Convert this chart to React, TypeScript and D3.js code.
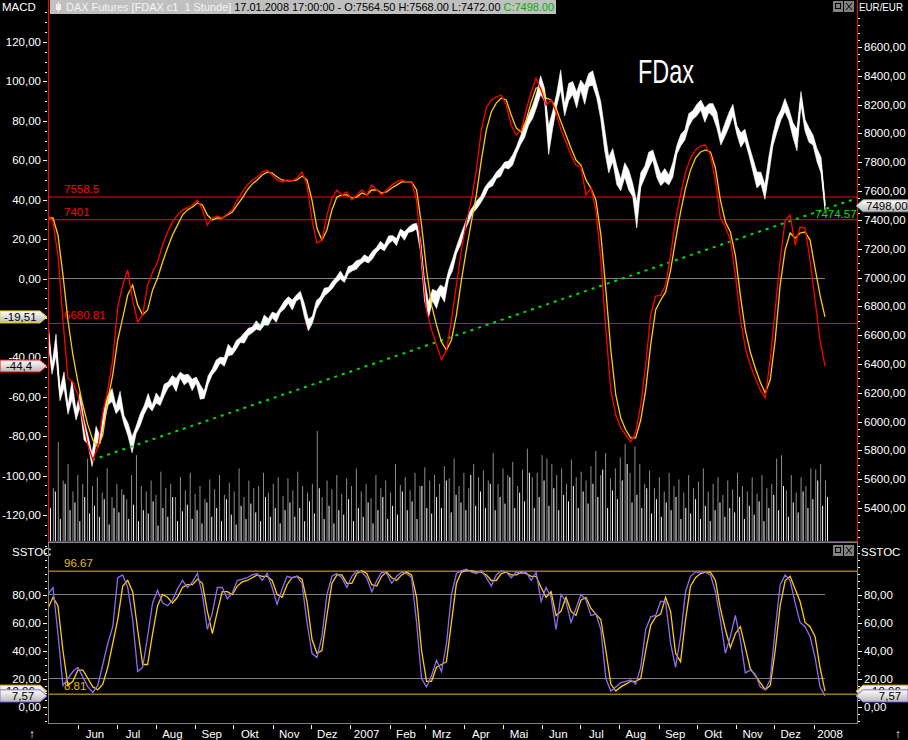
import React from 'react';
import * as d3 from 'd3';

// axis window (first bar .. last bar as placed on the time axis)
const startDate = new Date(2006, 4, 8);
const endDate = new Date(2008, 0, 10);
const monthNames = ['Jan', 'Feb', 'Mrz', 'Apr', 'Mai', 'Jun', 'Jul', 'Aug', 'Sep', 'Okt', 'Nov', 'Dez'];

// FDAX hourly close (sampled)
const price = [
  6636, 6358, 6532, 6185, 6289, 6080, 6219, 6046, 6150, 5942, 5872, 5733, 5907, 5872, 6046, 6150, 6185, 6080, 6150, 6011,
  5942, 5838, 5942, 6011, 6080, 6150, 6094, 6164, 6136, 6219, 6254, 6289, 6254, 6323, 6289, 6303, 6254, 6289, 6205, 6185,
  6289, 6344, 6393, 6427, 6414, 6497, 6483, 6532, 6566, 6580, 6622, 6636, 6670, 6650, 6705, 6691, 6740, 6719, 6774, 6809,
  6844, 6809, 6858, 6879, 6774, 6670, 6705, 6809, 6844, 6899, 6913, 6948, 6983, 7017, 6983, 7052, 7066, 7087, 7108, 7135,
  7121, 7156, 7191, 7226, 7205, 7260, 7274, 7246, 7316, 7288, 7330, 7344, 7357, 7226, 6913, 6774, 6879, 6844, 6913, 6879,
  7017, 7087, 7191, 7260, 7344, 7413, 7468, 7503, 7538, 7593, 7642, 7663, 7711, 7732, 7781, 7781, 7815, 7885, 7954, 8010,
  8093, 8149, 8232, 8336, 8267, 7954, 8093, 8232, 8371, 8162, 8287, 8315, 8232, 8336, 8267, 8371, 8385, 8287, 8162, 7954,
  7781, 7850, 7711, 7642, 7746, 7677, 7607, 7434, 7677, 7732, 7815, 7850, 7746, 7677, 7711, 7677, 7746, 7885, 7954, 7989,
  8093, 8128, 8162, 8197, 8128, 8176, 8162, 8093, 7954, 8024, 8093, 8162, 8024, 7954, 7989, 7885, 7781, 7677, 7691, 7593,
  7781, 7954, 8058, 8128, 8197, 8128, 8024, 7954, 8246, 8058, 7989, 7954, 7850, 7781, 7498
];
// high-low spread of each sampled period (EUR)
const priceRange = [
  120, 60, 150, 80, 110, 60, 130, 70, 100, 140, 60, 90, 120, 50, 110, 70, 90, 50, 120, 60,
  90, 110, 50, 80, 60, 90, 40, 70, 50, 80, 40, 60, 90, 40, 70, 50, 80, 40, 100, 50,
  60, 40, 70, 40, 60, 80, 40, 60, 35, 70, 50, 40, 60, 35, 70, 45, 40, 60, 35, 55,
  45, 70, 40, 50, 90, 80, 50, 60, 40, 55, 35, 50, 40, 55, 35, 50, 40, 60, 35, 45,
  40, 55, 35, 50, 40, 55, 35, 50, 40, 60, 35, 50, 40, 90, 150, 110, 80, 120, 70, 100,
  60, 80, 50, 70, 45, 60, 40, 55, 45, 60, 40, 55, 45, 60, 40, 55, 70, 50, 60, 80,
  70, 90, 100, 130, 90, 200, 120, 90, 140, 80, 120, 90, 110, 70, 130, 90, 100, 80, 120, 150,
  110, 90, 130, 80, 100, 140, 90, 180, 100, 80, 110, 70, 100, 80, 90, 70, 100, 60, 80, 70,
  90, 60, 80, 70, 100, 60, 90, 110, 70, 90, 100, 80, 60, 100, 80, 70, 90, 110, 80, 100,
  120, 80, 100, 70, 90, 80, 100, 150, 90, 80, 100, 70, 90, 110, 60
];

// MACD line (red) and signal (yellow)
const macd = [
  32.2, 28.7, 11.9, -21.1, -50.5, -52.5, -59.1, -71.8, -84.5, -92.1,
  -85.5, -68.2, -56.6, -41.3, -14.5, -3.3, 4.3, -10.9, -22.1, -18.5,
  -3.3, 3.3, 8.4, 17.0, 23.6, 28.7, 32.2, 34.8, 35.8, 37.3,
  39.8, 34.8, 27.1, 30.7, 31.7, 30.7, 32.7, 34.8, 39.8, 43.9,
  47.4, 50.0, 51.5, 54.0, 55.0, 52.5, 50.0, 49.0, 50.0, 49.5,
  51.0, 54.0, 47.4, 29.7, 18.0, 19.5, 32.2, 40.8, 44.9, 42.4,
  43.9, 39.8, 42.4, 44.9, 42.4, 47.4, 44.9, 42.4, 44.9, 47.4,
  49.0, 50.0, 49.0, 49.0, 39.8, 9.4, -16.0, -26.1, -33.7, -41.3,
  -36.3, -21.1, -3.3, 14.5, 28.7, 39.8, 55.0, 75.3, 86.5, 90.6,
  92.1, 93.1, 88.0, 77.9, 72.8, 75.3, 85.5, 94.6, 101.7, 95.6,
  88.0, 90.6, 84.5, 75.3, 69.3, 62.7, 57.6, 56.6, 42.4, 45.9,
  34.8, 9.4, -26.1, -56.6, -69.3, -75.9, -79.4, -83.0, -77.9, -64.2,
  -43.9, -18.5, -8.9, -8.4, -3.3, 11.9, 29.7, 42.4, 54.0, 61.1,
  65.2, 67.2, 67.7, 62.7, 50.0, 30.7, 26.1, 19.5, 1.8, -20.0,
  -35.3, -43.9, -50.5, -56.6, -60.6, -41.3, -16.0, 9.4, 29.7, 32.2,
  17.0, 26.1, 25.6, 9.4, -10.9, -31.2, -44.4
];
const signal = [
  30.7, 30.7, 22.1, 1.8, -21.1, -38.8, -52.5, -64.2, -74.3, -81.9,
  -85.5, -79.4, -61.6, -48.9, -31.2, -20.0, -8.4, -3.3, -13.4, -18.5,
  -16.0, -5.8, 0.3, 8.4, 15.5, 22.1, 27.1, 32.2, 34.8, 36.3,
  38.3, 37.3, 32.2, 29.7, 30.7, 30.7, 32.2, 33.7, 37.3, 40.8,
  44.9, 47.9, 50.0, 52.5, 54.0, 53.5, 51.5, 50.0, 49.5, 49.5,
  50.0, 52.0, 50.0, 39.8, 25.6, 19.5, 24.6, 34.8, 41.3, 42.4,
  42.4, 40.8, 41.3, 43.4, 42.4, 44.9, 44.9, 43.4, 43.9, 45.9,
  47.4, 49.0, 49.0, 49.0, 44.9, 27.1, 4.3, -13.4, -23.6, -32.2,
  -36.3, -31.2, -18.5, -0.8, 14.5, 28.7, 42.4, 60.1, 75.3, 84.5,
  89.0, 91.6, 90.6, 83.0, 76.4, 74.3, 80.4, 89.5, 96.7, 96.7,
  91.6, 90.6, 86.5, 79.4, 72.8, 66.2, 60.1, 57.6, 50.0, 45.9,
  39.8, 22.1, -5.8, -36.3, -59.1, -70.8, -76.9, -80.9, -80.9, -71.8,
  -56.6, -33.7, -16.0, -10.9, -6.8, 4.3, 19.5, 33.7, 45.9, 55.0,
  61.1, 64.2, 65.2, 64.2, 56.1, 39.8, 28.7, 23.6, 11.9, -8.4,
  -26.1, -37.3, -45.4, -52.5, -58.1, -51.5, -31.2, -3.3, 14.5, 23.1,
  20.5, 23.1, 23.6, 19.5, 5.3, -8.4, -19.51
];

// slow stochastic %K (purple) and %D (yellow)
const stochK = [
  80, 85, 52, 15, 20, 25, 28, 21, 14, 10,
  15, 30, 45, 57, 92, 94, 85, 62, 25, 28,
  50, 74, 83, 74, 72, 76, 84, 90, 85, 89,
  95, 80, 55, 67, 85, 85, 77, 81, 90, 91,
  92, 94, 95, 90, 95, 85, 73, 84, 93, 92,
  93, 88, 60, 38, 35, 50, 80, 93, 95, 92,
  85, 93, 97, 96, 92, 82, 90, 96, 95, 88,
  93, 96, 95, 92, 60, 20, 14, 22, 33, 25,
  45, 80, 95, 97, 98, 96, 95, 97, 92, 86,
  94, 97, 96, 92, 96, 95, 96, 90, 96, 75,
  85, 78, 55, 80, 75, 60, 70, 80, 76, 65,
  66, 55, 20, 11, 14, 17, 18, 19, 16, 28,
  55, 64, 65, 75, 75, 45, 28, 50, 82, 93,
  96, 96, 96, 94, 82, 62, 38, 50, 65, 48,
  24, 26, 23, 14, 12, 19, 55, 87, 94, 90,
  74, 60, 57, 50, 35, 14, 7.57
];
const stochD = [
  70, 78, 72, 40, 15, 18, 26, 26, 20, 14,
  12, 16, 28, 45, 62, 86, 90, 82, 55, 30,
  30, 52, 72, 80, 78, 74, 78, 85, 87, 87,
  91, 88, 68, 52, 68, 82, 82, 80, 86, 89,
  90, 92, 94, 93, 93, 90, 80, 78, 87, 92,
  93, 91, 75, 48, 38, 40, 65, 88, 94, 94,
  88, 88, 95, 97, 95, 87, 86, 93, 96, 92,
  90, 94, 96, 94, 78, 40, 18, 18, 28, 30,
  32, 60, 88, 96, 97, 97, 96, 96, 94, 90,
  90, 95, 96, 94, 94, 96, 95, 93, 93, 85,
  78, 82, 65, 68, 78, 68, 65, 76, 78, 70,
  66, 62, 40, 16, 11, 14, 16, 18, 18, 20,
  40, 58, 64, 66, 78, 68, 38, 32, 62, 86,
  92, 95, 96, 96, 90, 70, 55, 42, 52, 57,
  42, 27, 22, 17, 12, 15, 40, 72, 90, 93,
  84, 75, 60, 57, 50, 28, 10.96
];

// volume (two interleaved bar sets)
const volGray = [
  62, 48, 90, 55, 70, 45, 60, 52, 75, 50, 58, 44, 66, 40, 52, 47, 38, 60, 78, 50,
  45, 55, 42, 63, 48, 52, 40, 58, 46, 62, 43, 50, 38, 56, 47, 60, 42, 53, 45, 66,
  40, 55, 48, 50, 62, 44, 52, 58, 41, 57, 46, 63, 50, 44, 52, 100, 40, 55, 47, 60,
  43, 57, 50, 66, 45, 52, 39, 60, 48, 55, 44, 70, 51, 58, 46, 62, 50, 67, 55, 60,
  52, 68, 57, 75, 50, 62, 48, 70, 58, 64, 55, 80, 52, 66, 60, 72, 50, 65, 84, 58,
  62, 78, 75, 70, 60, 66, 52, 74, 58, 63, 55, 68, 82, 60, 80, 57, 66, 76, 88, 62,
  86, 70, 52, 64, 48, 58, 45, 62, 50, 56, 44, 60, 48, 54, 66, 45, 52, 58, 42, 55,
  47, 62, 50, 45, 58, 43, 60, 48, 52, 75, 78, 46, 60, 44, 58, 50, 66, 65, 70, 55
];
const volWhite = [
  30, 45, 20, 52, 28, 35, 18, 40, 25, 32, 22, 38, 15, 30, 26, 42, 20, 33, 18, 28,
  25, 36, 14, 30, 22, 40, 18, 27, 33, 20, 28, 16, 35, 22, 30, 18, 38, 24, 15, 32,
  20, 34, 26, 18, 40, 22, 30, 16, 28, 35, 22, 30, 18, 36, 25, 48, 20, 32, 16, 28,
  24, 38, 18, 30, 22, 35, 16, 28, 40, 20, 32, 24, 45, 28, 36, 20, 50, 30, 25, 40,
  30, 55, 26, 42, 35, 28, 60, 32, 45, 30, 52, 28, 40, 34, 58, 30, 44, 36, 62, 30,
  40, 55, 32, 48, 28, 42, 36, 50, 30, 45, 34, 52, 40, 65, 30, 46, 38, 55, 70, 35,
  42, 30, 48, 25, 38, 22, 35, 28, 40, 20, 30, 25, 38, 20, 32, 18, 28, 35, 22, 30,
  26, 40, 20, 32, 24, 36, 18, 30, 42, 28, 50, 22, 35, 26, 45, 30, 38, 55, 32, 40
];

const priceLevels = [7558.5, 7401, 6680.81];
const priceLevelLabels = ['7558.5', '7401', '6680.81'];
const stochLevels = [96.67, 8.81];
const stochLevelLabels = ['96.67', '8.81'];
const trendLow = 5733;
const trendLast = 7474.57;

const FONT = 'Liberation Sans, Arial, sans-serif';
const RED = '#ff0000';
const YEL = '#ffcc00';
const GOLD = '#e8b800';
const PURP = '#8c6cf0';
const GREEN = '#00e000';

const de = d3.formatLocale({ decimal: ',', thousands: '.', grouping: [3], currency: ['', ''], minus: '-' });
const f2 = de.format('.2f');

const L = 48, R = 857;
const mainTop = 0, mainBot = 541;
const lowTop = 542, lowBot = 723;

const tagLeft = (y: number, w = 47) => `M0,${y - 6}H${w - 7}L${w},${y}L${w - 7},${y + 6}H0Z`;
const tagRight = (y: number) => `M856,${y}L863,${y - 6}H908V${y + 6}H863Z`;

const App = () => {
  const xTime = d3.scaleTime().domain([startDate, endDate]).range([L, 825]);
  const rightDate = xTime.invert(830);
  const idx = (n: number) => d3.scaleLinear().domain([0, n - 1]).range([xTime(startDate), xTime(endDate)]);

  const yMacd = d3.scaleLinear().domain([-120, 120]).range([515, 42]);
  const yPrice = d3.scaleLinear().domain([5400, 8600]).range([508, 47]);
  const yStoch = d3.scaleLinear().domain([0, 100]).range([706.5, 566.5]);
  const yVol = d3.scaleLinear().domain([0, 100]).range([mainBot, 431]);

  const xp = idx(price.length);
  const xm = idx(macd.length);
  const xs = idx(stochK.length);
  const xv = idx(volGray.length);

  // hourly bars compressed: high-low envelope plus the close trace
  const priceBand = d3.area<number>()
    .x((_, i) => xp(i))
    .y0((d, i) => yPrice(d - priceRange[i] / 2))
    .y1((d, i) => yPrice(d + priceRange[i] / 2));
  const priceLine = d3.line<number>().x((_, i) => xp(i)).y(d => yPrice(d));
  const macdLine = d3.line<number>().x((_, i) => xm(i)).y(d => yMacd(d));
  const stochLine = d3.line<number>().x((_, i) => xs(i)).y(d => yStoch(d));

  // trend line from the price low to the last bar, extended to the right edge
  const lowIdx = price.indexOf(d3.min(price) as number);
  const trendX = d3.scaleLinear().domain([xp(lowIdx), xp(price.length - 1)]).range([trendLow, trendLast]);

  const months = d3.timeMonth.range(d3.timeMonth.ceil(startDate), rightDate);

  const macdMajor = d3.range(-120, 121, 20);
  const macdMinor = d3.range(-135, 140, 5).filter(v => yMacd(v) > 2 && yMacd(v) < mainBot - 2);
  const priceMajor = d3.range(5400, 8601, 200);
  const priceMinor = d3.range(5200, 8850, 50).filter(v => yPrice(v) > 2 && yPrice(v) < mainBot - 2);
  const stochMajor = d3.range(0, 81, 20);
  const stochMinor = d3.range(-15, 125, 5).filter(v => yStoch(v) > lowTop + 2 && yStoch(v) < lowBot - 1);

  const txt = { fontFamily: FONT, fontSize: 11.5 } as const;

  return (
    <div style={{ width: 908, height: 740, background: '#000' }}>
      <style>{`body{margin:0;background:#000;}`}</style>
      <svg width={908} height={740} style={{ display: 'block', background: '#000' }}>
        <defs>
          <linearGradient id="tagFill" x1="0" y1="0" x2="0" y2="1">
            <stop offset="0" stopColor="#ffffff" />
            <stop offset="1" stopColor="#b8b8b8" />
          </linearGradient>
          <clipPath id="mainClip"><rect x={L + 1} y={mainTop + 14} width={R - L - 1} height={mainBot - 14} /></clipPath>
          <clipPath id="lowClip"><rect x={L + 1} y={lowTop + 1} width={R - L - 1} height={lowBot - lowTop - 1} /></clipPath>
        </defs>

        {/* header */}
        <text x={2} y={11} fill="#fff" {...txt}>MACD</text>
        <rect x={50} y={0} width={506} height={14} fill="#c0c0c0" />
        <line x1={58.5} y1={2} x2={58.5} y2={12} stroke="#f0f0f0" />
        <rect x={56} y={4} width={5} height={6} fill="#f0f0f0" />
        <text x={66} y={11} fontFamily={FONT} fontSize={11} textLength={488} lengthAdjust="spacingAndGlyphs">
          <tspan fill="#f4f4f4">{'DAX Futures [FDAX c1\u00a0\u00a01 Stunde]'}</tspan>
          <tspan fill="#000"> 17.01.2008 17:00:00 - O:7564.50 H:7568.00 L:7472.00 </tspan>
          <tspan fill="#00b000">C:7498.00</tspan>
        </text>
        <text x={859} y={11} fill="#fff" fontFamily={FONT} fontSize={11} textLength={44} lengthAdjust="spacingAndGlyphs">EUR/EUR</text>
        {[0, 1].map(k => (
          <g key={k} transform={`translate(${833 + k * 11},1)`}>
            <rect width={10} height={11} fill="#808080" />
            {k === 0
              ? <rect x={2.5} y={2.5} width={5} height={5} fill="none" stroke="#000" />
              : <path d="M2,2L8,9M8,2L2,9" stroke="#000" />}
          </g>
        ))}

        {/* main panel */}
        <g clipPath="url(#mainClip)">
          {volGray.map((v, i) => (
            <line key={'g' + i} x1={xv(i) + 0.5} x2={xv(i) + 0.5} y1={mainBot} y2={yVol(v)} stroke="#8c8c8c" />
          ))}
          {volWhite.map((v, i) => (
            <line key={'w' + i} x1={xv(i) + 2.5} x2={xv(i) + 2.5} y1={mainBot} y2={yVol(v)} stroke="#ffffff" />
          ))}
          <line x1={L} x2={825} y1={yMacd(0)} y2={yMacd(0)} stroke="#808080" />
          {priceLevels.map((p, i) => (
            <g key={p}>
              <line x1={L} x2={R} y1={yPrice(p)} y2={yPrice(p)} stroke={RED} />
              <text x={64} y={yPrice(p) - 4} fill={RED} {...txt}>{priceLevelLabels[i]}</text>
            </g>
          ))}
          <path d={priceBand(price) || ''} fill="#fff" stroke="#fff" strokeWidth={0.6} />
          <path d={priceLine(price) || ''} fill="none" stroke="#fff" strokeWidth={1.4} />
          <line x1={xp(lowIdx)} y1={yPrice(trendLow)} x2={R} y2={yPrice(trendX(R))}
            stroke={GREEN} strokeWidth={2} strokeDasharray="3,5" />
          <path d={macdLine(signal) || ''} fill="none" stroke={YEL} strokeWidth={1.3} />
          <path d={macdLine(macd) || ''} fill="none" stroke={RED} strokeWidth={1.3} />
          <text x={815} y={218} fill={GREEN} {...txt}>{String(trendLast)}</text>
          <text x={638} y={83} fill="#fff" fontFamily={FONT} fontSize={34} textLength={56} lengthAdjust="spacingAndGlyphs">FDax</text>
        </g>
        <rect x={L + 0.5} y={-1} width={R - L} height={mainBot + 1.5} fill="none" stroke={RED} />

        {/* left MACD axis */}
        {macdMinor.map(v => (
          <line key={'mm' + v} x1={45} x2={47} y1={Math.round(yMacd(v)) + 0.5} y2={Math.round(yMacd(v)) + 0.5} stroke="#fff" />
        ))}
        {macdMajor.map(v => (
          <g key={'mM' + v}>
            <line x1={43} x2={47} y1={Math.round(yMacd(v)) + 0.5} y2={Math.round(yMacd(v)) + 0.5} stroke="#fff" />
            <text x={41} y={yMacd(v) + 4} textAnchor="end" fill="#fff" {...txt}>{f2(v)}</text>
          </g>
        ))}

        {/* right price axis */}
        {priceMinor.map(v => (
          <line key={'pm' + v} x1={858} x2={860} y1={Math.round(yPrice(v)) + 0.5} y2={Math.round(yPrice(v)) + 0.5} stroke="#fff" />
        ))}
        {priceMajor.map(v => (
          <g key={'pM' + v}>
            <line x1={858} x2={862} y1={Math.round(yPrice(v)) + 0.5} y2={Math.round(yPrice(v)) + 0.5} stroke="#fff" />
            <text x={864} y={yPrice(v) + 4} fill="#fff" {...txt}>{f2(v)}</text>
          </g>
        ))}

        {/* value tags main */}
        <path d={tagLeft(yMacd(signal[signal.length - 1]))} fill="url(#tagFill)" stroke={YEL} />
        <text x={4} y={yMacd(signal[signal.length - 1]) + 4} fill="#000" {...txt}>{f2(signal[signal.length - 1]).replace(/0$/, '')}</text>
        <path d={tagLeft(yMacd(macd[macd.length - 1]))} fill="url(#tagFill)" stroke={RED} />
        <text x={6} y={yMacd(macd[macd.length - 1]) + 4} fill="#000" {...txt}>{f2(macd[macd.length - 1]).replace(/0$/, '')}</text>
        <path d={tagRight(yPrice(price[price.length - 1]))} fill="url(#tagFill)" stroke="#909090" />
        <text x={866} y={yPrice(price[price.length - 1]) + 4} fill="#000" {...txt}>{f2(price[price.length - 1])}</text>

        {/* lower panel */}
        <text x={12} y={556} fill="#fff" {...txt}>SSTOC</text>
        <text x={861} y={556} fill="#fff" {...txt}>SSTOC</text>
        {[0, 1].map(k => (
          <g key={k} transform={`translate(${833 + k * 11},545)`}>
            <rect width={10} height={11} fill="#808080" />
            {k === 0
              ? <rect x={2.5} y={2.5} width={5} height={5} fill="none" stroke="#000" />
              : <path d="M2,2L8,9M8,2L2,9" stroke="#000" />}
          </g>
        ))}
        <g clipPath="url(#lowClip)">
          {[80, 20].map(v => (
            <line key={v} x1={L} x2={825} y1={yStoch(v)} y2={yStoch(v)} stroke="#808080" />
          ))}
          {stochLevels.map((v, i) => (
            <g key={v}>
              <line x1={L} x2={R} y1={yStoch(v)} y2={yStoch(v)} stroke={GOLD} />
              <text x={64} y={yStoch(v) - 4} fill={GOLD} {...txt}>{stochLevelLabels[i]}</text>
            </g>
          ))}
          <path d={stochLine(stochD) || ''} fill="none" stroke={YEL} strokeWidth={1.3} />
          <path d={stochLine(stochK) || ''} fill="none" stroke={PURP} strokeWidth={1.3} />
        </g>
        <rect x={L + 0.5} y={lowTop + 0.5} width={R - L} height={lowBot - lowTop} fill="none" stroke="#808080" />

        {stochMinor.map(v => (
          <g key={'sm' + v}>
            <line x1={45} x2={47} y1={Math.round(yStoch(v)) + 0.5} y2={Math.round(yStoch(v)) + 0.5} stroke="#fff" />
            <line x1={858} x2={860} y1={Math.round(yStoch(v)) + 0.5} y2={Math.round(yStoch(v)) + 0.5} stroke="#fff" />
          </g>
        ))}
        {stochMajor.map(v => (
          <g key={'sM' + v}>
            <line x1={43} x2={47} y1={Math.round(yStoch(v)) + 0.5} y2={Math.round(yStoch(v)) + 0.5} stroke="#fff" />
            <line x1={858} x2={862} y1={Math.round(yStoch(v)) + 0.5} y2={Math.round(yStoch(v)) + 0.5} stroke="#fff" />
            <text x={41} y={yStoch(v) + 4} textAnchor="end" fill="#fff" {...txt}>{f2(v)}</text>
            <text x={864} y={yStoch(v) + 4} fill="#fff" {...txt}>{f2(v)}</text>
          </g>
        ))}

        {/* stoch tags */}
        {[0, 1].map(side => {
          const yd = yStoch(stochD[stochD.length - 1]);
          const yk = yStoch(stochK[stochK.length - 1]);
          const tx = side === 0 ? 0 : 866;
          return (
            <g key={side}>
              <path d={side === 0 ? tagLeft(yd) : tagRight(yd)} fill="url(#tagFill)" stroke={GOLD} />
              <text x={tx + 6} y={yd + 4} fill="#000" {...txt}>{f2(stochD[stochD.length - 1])}</text>
              <path d={side === 0 ? tagLeft(yk) : tagRight(yk)} fill="url(#tagFill)" stroke={PURP} />
              <text x={side === 0 ? 23 : 890} y={yk + 4} textAnchor="middle" fill="#000" {...txt}>{f2(stochK[stochK.length - 1])}</text>
            </g>
          );
        })}

        {/* time axis */}
        {months.map(d => (
          <g key={+d}>
            <line x1={Math.round(xTime(d)) + 0.5} x2={Math.round(xTime(d)) + 0.5} y1={725} y2={729} stroke="#fff" />
            <text x={xTime(d3.timeDay.offset(d, 13))} y={738} textAnchor="middle" fill="#fff" {...txt}>
              {d.getMonth() === 0 ? String(d.getFullYear()) : monthNames[d.getMonth()]}
            </text>
          </g>
        ))}
        <text x={32} y={738} textAnchor="middle" fill="#fff" {...txt}>↑</text>
        <text x={898} y={738} textAnchor="middle" fill="#fff" {...txt}>↑</text>
      </svg>
    </div>
  );
};

export default App;
